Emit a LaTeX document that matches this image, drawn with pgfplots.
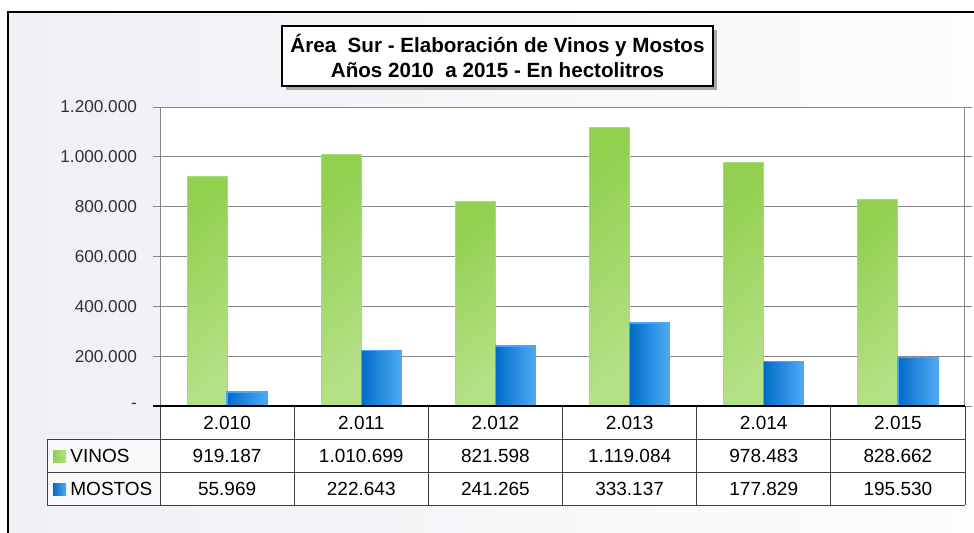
\documentclass[border=0pt]{standalone}
\usepackage{pgfplots}
\pgfplotsset{compat=1.18}
\usepackage{fontspec}
\setmainfont{Liberation Sans}
\usetikzlibrary{shadows}

\definecolor{bgleft}{RGB}{240,239,245}
\definecolor{bgright}{RGB}{253,253,253}
\definecolor{vgreen}{RGB}{146,208,80}
\definecolor{vgreenmid}{RGB}{150,210,86}
\definecolor{vgreenpale}{RGB}{180,224,134}
\definecolor{vgreenedge}{RGB}{165,220,115}
\definecolor{mbluedark}{RGB}{0,108,200}
\definecolor{mblue}{RGB}{0,128,225}
\definecolor{mbluelight}{RGB}{80,170,245}
\definecolor{mblueedge}{RGB}{70,165,255}
\definecolor{gridgray}{RGB}{134,134,134}
\definecolor{tablegray}{RGB}{64,64,64}
\definecolor{ticktext}{RGB}{50,50,50}

\pgfplotsset{
  vinos/.style={ybar, bar width=20pt, bar shift=-10pt, draw=vgreenedge, line width=0.5pt,
    top color=vgreen, middle color=vgreenmid, bottom color=vgreenpale, shading angle=40, forget plot},
  mostos/.style={ybar, bar width=20pt, bar shift=10pt, draw=mblueedge, line width=0.7pt,
    left color=mbluedark, middle color=mblue, right color=mbluelight, forget plot},
}

\begin{document}
\begin{tikzpicture}
% fixed page size: 974 x 532 px at 0.5pt per px
\useasboundingbox (0,0) rectangle (487pt,-266pt);

\begin{scope}[x=0.5pt,y=-0.5pt]
  % chart area background and frame
  \shade[left color=bgleft, right color=bgright] (8,12) rectangle (990,545);
  \draw[black, line width=0.8pt] (8,545) -- (8,12) -- (990,12);
\end{scope}

\begin{axis}[
    at={(80pt,-203pt)}, anchor=south west,
    width=402.5pt, height=149.5pt, scale only axis,
    xmin=-0.5, xmax=5.5,
    ymin=0, ymax=1200000,
    ytick={0,200000,400000,600000,800000,1000000,1200000},
    yticklabels={-,200.000,400.000,600.000,800.000,1.000.000,1.200.000},
    scaled y ticks=false,
    xtick=\empty,
    ymajorgrids,
    grid style={gridgray, line width=0.5pt},
    axis line style={gridgray, line width=0.5pt},
    tick align=outside,
    major tick length=3.5pt,
    ytick style={gridgray, line width=0.5pt},
    yticklabel style={font=\fontsize{8.6}{10}\selectfont, text=ticktext, xshift=-4.5pt},
    axis background/.style={fill=white},
    /pgf/number format/assume math mode=true,
]
% VINOS, one bar per year so that each bar gets its own shading
\addplot[vinos] coordinates {(0,919187)};
\addplot[vinos] coordinates {(1,1010699)};
\addplot[vinos] coordinates {(2,821598)};
\addplot[vinos] coordinates {(3,1119084)};
\addplot[vinos] coordinates {(4,978483)};
\addplot[vinos] coordinates {(5,828662)};
% MOSTOS
\addplot[mostos] coordinates {(0,55969)};
\addplot[mostos] coordinates {(1,222643)};
\addplot[mostos] coordinates {(2,241265)};
\addplot[mostos] coordinates {(3,333137)};
\addplot[mostos] coordinates {(4,177829)};
\addplot[mostos] coordinates {(5,195530)};
\end{axis}

\begin{scope}[x=0.5pt,y=-0.5pt]
  % title box
  \node[draw=black, line width=1pt, fill=white,
        drop shadow={shadow xshift=2pt, shadow yshift=-2pt, fill=black!55, opacity=0.6},
        minimum width=215.5pt, minimum height=30pt, align=center, inner sep=0pt,
        font=\bfseries\fontsize{10.3}{12.6}\selectfont]
    at (497.5,56) {Área\ \ Sur - Elaboración de Vinos y Mostos\\Años 2010\ \ a 2015 - En hectolitros};

  % data table cells
  \fill[white] (160,406) rectangle (965,505);
  \fill[white, opacity=0.6] (47,439) rectangle (160,505);
  \draw[tablegray, line width=0.5pt] (47,439) -- (965,439);
  \draw[tablegray, line width=0.5pt] (47,472) -- (965,472);
  \draw[tablegray, line width=0.5pt] (47,505) -- (965,505);
  \draw[tablegray, line width=0.5pt] (47,439) -- (47,505);
  \foreach \k in {0,...,6} {
    \draw[tablegray, line width=0.5pt] ({160+134.1667*\k},406) -- ({160+134.1667*\k},505);
  }
  \draw[black, line width=0.6pt] (153,406) -- (965,406);

  % legend swatches
  \shade[left color=vgreen, right color=vgreenpale] (53,450) rectangle (66,462);
  \shade[left color=mbluedark, right color=mbluelight] (53,483) rectangle (66,495);
  \node[anchor=west, inner sep=0pt, font=\fontsize{9.5}{11}\selectfont] at (70,455.5) {VINOS};
  \node[anchor=west, inner sep=0pt, font=\fontsize{9.5}{11}\selectfont] at (70,488.5) {MOSTOS};

  % table text
  \foreach \yr/\v/\m [count=\i from 0] in {2.010/919.187/55.969, 2.011/1.010.699/222.643,
      2.012/821.598/241.265, 2.013/1.119.084/333.137, 2.014/978.483/177.829, 2.015/828.662/195.530} {
    \node[inner sep=0pt, font=\fontsize{9.5}{11}\selectfont] at ({160+134.1667*(\i+0.5)},422.5) {\yr};
    \node[inner sep=0pt, font=\fontsize{9.5}{11}\selectfont] at ({160+134.1667*(\i+0.5)},455.5) {\v};
    \node[inner sep=0pt, font=\fontsize{9.5}{11}\selectfont] at ({160+134.1667*(\i+0.5)},488.5) {\m};
  }
\end{scope}
\end{tikzpicture}
\end{document}
